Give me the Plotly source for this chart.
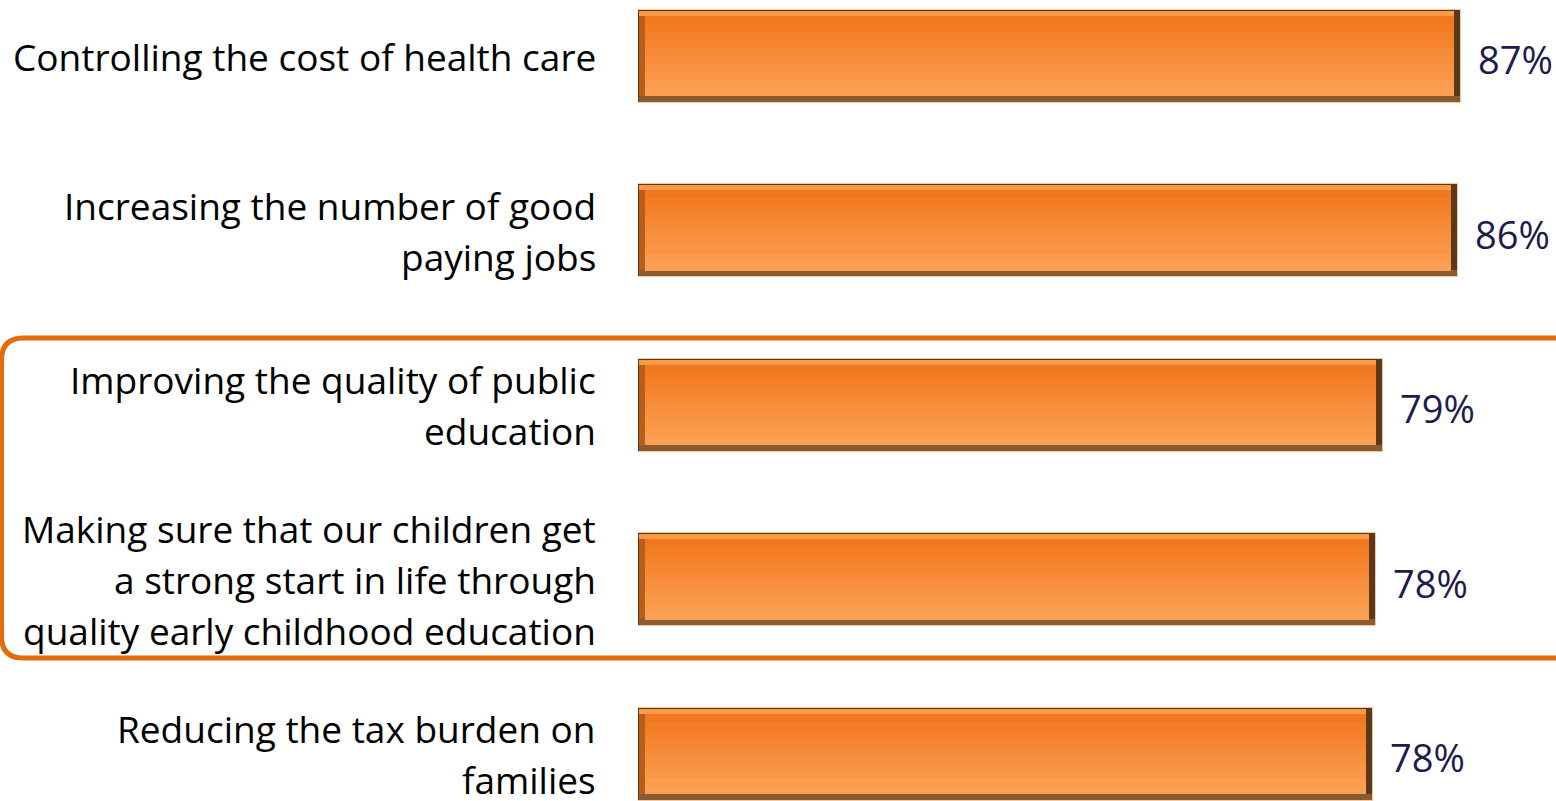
import plotly.graph_objects as go

categories = [
    "Controlling the cost of health care",
    "Increasing the number of good\npaying jobs",
    "Improving the quality of public\neducation",
    "Making sure that our children get\na strong start in life through\nquality early childhood education",
    "Reducing the tax burden on\nfamilies",
]
values = [87.0, 86.6, 78.75, 78.0, 77.7]
value_labels = ["87%", "86%", "79%", "78%", "78%"]

W, H = 1556, 801
L = 638
XMAX = 97.0
PX_X = (W - L) / XMAX          # pixels per x unit
ROW = 174.5                    # pixels per category
Y0 = 56                        # pixel centre of first category
yr = [(H - Y0) / ROW, -Y0 / ROW]
u = 1 / ROW                    # y data units per pixel
ux = 1 / PX_X                  # x data units per pixel

ypos = list(range(len(categories)))
BAR_PX = 93

fig = go.Figure()

def layer(y_top_px, y_bot_px, left_px, right_px, color, line=None):
    fig.add_trace(go.Bar(
        y=ypos, x=[v - (left_px + right_px) * ux for v in values],
        base=[left_px * ux] * len(values),
        orientation="h",
        width=(y_bot_px - y_top_px) * u,
        offset=y_top_px * u,
        marker=dict(color=color, line=dict(color=line or color, width=1 if line else 0)),
        hoverinfo="skip", showlegend=False,
    ))

half = BAR_PX / 2
# dark outer body (right / bottom bevel)
layer(-half, half, 0, 0, "#5C3818", "#F3C7A0")
# bottom bevel
layer(half - 7, half - 1, 1, 1, "#8A5A30")
# left bevel
layer(-half + 1, half - 7, 0.5, 7, "#B85E1C")
# top highlight
layer(-half + 1, -half + 6, 1, 7, "#F99A48")
# gradient face
top_c = (0xF2, 0x78, 0x1F)
bot_c = (0xFB, 0xA0, 0x52)
N = 10
y_start, y_end = -half + 6, half - 7
step = (y_end - y_start) / N
for k in range(N):
    t = k / (N - 1)
    c = tuple(round(top_c[i] + (bot_c[i] - top_c[i]) * t) for i in range(3))
    layer(y_start + k * step, y_start + (k + 1) * step + 0.6, 7, 7,
          "#%02X%02X%02X" % c)

annotations = []
LINE_H = 51
for i, cat in enumerate(categories):
    lines = cat.split("\n")
    n = len(lines)
    for j, ln in enumerate(lines):
        annotations.append(dict(
            x=0, xref="paper", y=i, yref="y", text=ln,
            xanchor="right", yanchor="middle", xshift=-40,
            yshift=-(j - (n - 1) / 2) * LINE_H,
            showarrow=False,
            font=dict(family="Open Sans", size=37, color="#000000"),
        ))
    annotations.append(dict(
        x=values[i], xref="x", y=i, yref="y", text=value_labels[i],
        xanchor="left", yanchor="middle", xshift=15, yshift=-3,
        showarrow=False,
        font=dict(family="Open Sans", size=38, color="#1E1B4D"),
    ))

# rounded outline box around the education items
def px(x):
    return (x - L) / (W - L)

def py(y):
    return 1 - y / H

top, bot, left, right, r = 338, 658, 1.5, 1600, 22
path = (f"M {px(right)},{py(top)} L {px(left + r)},{py(top)} "
        f"Q {px(left)},{py(top)} {px(left)},{py(top + r)} "
        f"L {px(left)},{py(bot - r)} "
        f"Q {px(left)},{py(bot)} {px(left + r)},{py(bot)} "
        f"L {px(right)},{py(bot)}")

fig.update_layout(
    width=W, height=H,
    margin=dict(l=L, r=0, t=0, b=0),
    plot_bgcolor="white", paper_bgcolor="white",
    barmode="overlay",
    bargap=0,
    xaxis=dict(range=[0, XMAX], visible=False, fixedrange=True),
    yaxis=dict(range=yr, visible=False, fixedrange=True),
    annotations=annotations,
    shapes=[dict(type="path", path=path, xref="paper", yref="paper",
                 line=dict(color="#E46C0A", width=5), layer="above")],
    showlegend=False,
)

fig.write_html(
    "out.html",
    config={"displayModeBar": False},
    post_script="document.body.style.margin='0';document.body.style.overflow='hidden';",
)
